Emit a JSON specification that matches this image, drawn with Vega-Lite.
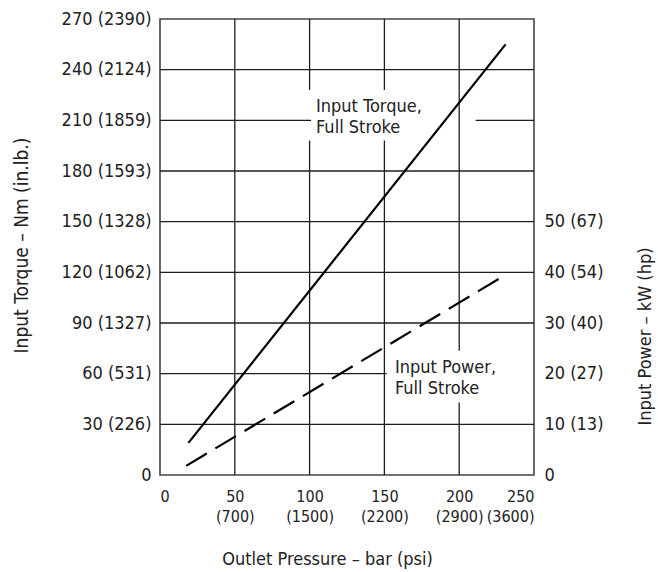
{
  "$schema": "https://vega.github.io/schema/vega-lite/v6.json",
  "width": 374,
  "height": 456,
  "autosize": {"type": "none"},
  "padding": {"left": 160, "top": 19, "right": 124, "bottom": 97},
  "background": "white",
  "config": {
    "view": {"stroke": "#444444", "strokeWidth": 1.6},
    "font": "DejaVu Sans Condensed",
    "axis": {
      "labelFont": "DejaVu Sans Condensed",
      "titleFont": "DejaVu Sans Condensed",
      "labelFontSize": 18,
      "titleFontSize": 18,
      "titleFontWeight": "normal",
      "labelColor": "#222222",
      "titleColor": "#222222",
      "labelOverlap": false,
      "ticks": false,
      "domain": false,
      "grid": false
    }
  },
  "datasets": {
    "grid": [
      {"x1": 0, "x2": 250, "y1": 30, "y2": 30},
      {"x1": 0, "x2": 151.5, "y1": 60, "y2": 60},
      {"x1": 0, "x2": 250, "y1": 90, "y2": 90},
      {"x1": 0, "x2": 250, "y1": 120, "y2": 120},
      {"x1": 0, "x2": 250, "y1": 150, "y2": 150},
      {"x1": 0, "x2": 250, "y1": 180, "y2": 180},
      {"x1": 0, "x2": 101, "y1": 210, "y2": 210},
      {"x1": 211, "x2": 250, "y1": 210, "y2": 210},
      {"x1": 0, "x2": 250, "y1": 240, "y2": 240},
      {"x1": 50, "x2": 50, "y1": 0, "y2": 270},
      {"x1": 100, "x2": 100, "y1": 0, "y2": 198},
      {"x1": 100, "x2": 100, "y1": 228, "y2": 270},
      {"x1": 150, "x2": 150, "y1": 0, "y2": 198},
      {"x1": 150, "x2": 150, "y1": 228, "y2": 270},
      {"x1": 200, "x2": 200, "y1": 0, "y2": 43},
      {"x1": 200, "x2": 200, "y1": 73.5, "y2": 270}
    ],
    "labels": [
      {"px": 104.3, "py": 214.9, "txt": "Input Torque,\nFull Stroke"},
      {"px": 157.1, "py": 60.4, "txt": "Input Power,\nFull Stroke"}
    ],
    "torque": [
      {"pressure": 19, "torque": 19},
      {"pressure": 231, "torque": 255}
    ],
    "power": [
      {"pressure": 17.5, "kw": 1.8},
      {"pressure": 231, "kw": 39.5}
    ]
  },
  "layer": [
    {
      "layer": [
        {
          "data": {"name": "grid"},
          "mark": {"type": "rule", "color": "#1e1e1e", "strokeWidth": 1.3},
          "encoding": {
            "x": {
              "field": "x1", "type": "quantitative",
              "scale": {"domain": [0, 250], "nice": false, "zero": false},
              "axis": {
                "title": "Outlet Pressure – bar (psi)",
                "values": [0, 50, 100, 150, 200, 250],
                "labelFontSize": 16,
                "labelPadding": 13,
                "labelLineHeight": 20,
                "labelExpr": "datum.value == 0 ? '0' : datum.value == 50 ? ['50', '(700)'] : datum.value == 100 ? ['100', '(1500)'] : datum.value == 150 ? ['150', '(2200)'] : datum.value == 200 ? ['200', '(2900)'] : ['250', '(3600)']",
                "titleX": 167,
                "titleY": 89,
                "titleBaseline": "alphabetic",
                "titleAlign": "center"
              }
            },
            "x2": {"field": "x2"},
            "y": {
              "field": "y1", "type": "quantitative",
              "scale": {"domain": [0, 270], "nice": false, "zero": false},
              "axis": {
                "title": "Input Torque – Nm (in.lb.)",
                "titleFontSize": 19,
                "values": [0, 30, 60, 90, 120, 150, 180, 210, 240, 270],
                "labelPadding": 9,
                "labelExpr": "datum.value == 0 ? '0' : datum.value == 30 ? '30 (226)' : datum.value == 60 ? '60 (531)' : datum.value == 90 ? '90 (1327)' : datum.value == 120 ? '120 (1062)' : datum.value == 150 ? '150 (1328)' : datum.value == 180 ? '180 (1593)' : datum.value == 210 ? '210 (1859)' : datum.value == 240 ? '240 (2124)' : '270 (2390)'",
                "titleAngle": 270,
                "titleX": -133,
                "titleY": 226,
                "titleBaseline": "alphabetic",
                "titleAlign": "center"
              }
            },
            "y2": {"field": "y2"}
          }
        },
        {
          "data": {"name": "labels"},
          "mark": {"type": "text", "align": "left", "baseline": "alphabetic", "lineBreak": "\n", "lineHeight": 21, "fontSize": 18, "font": "DejaVu Sans Condensed", "color": "#222222"},
          "encoding": {
            "x": {"field": "px", "type": "quantitative"},
            "y": {"field": "py", "type": "quantitative"},
            "text": {"field": "txt", "type": "nominal"}
          }
        },
        {
          "data": {"name": "torque"},
          "mark": {"type": "line", "color": "#000000", "strokeWidth": 2.2},
          "encoding": {
            "x": {"field": "pressure", "type": "quantitative"},
            "y": {"field": "torque", "type": "quantitative"}
          }
        }
      ]
    },
    {
      "data": {"name": "power"},
      "mark": {"type": "line", "color": "#000000", "strokeWidth": 2.2, "strokeDash": [24, 10]},
      "encoding": {
        "x": {"field": "pressure", "type": "quantitative"},
        "y": {
          "field": "kw", "type": "quantitative",
          "scale": {"domain": [0, 90], "nice": false, "zero": false},
          "axis": {
            "orient": "right",
            "title": "Input Power – kW (hp)",
            "values": [0, 10, 20, 30, 40, 50],
            "labelPadding": 10,
            "labelExpr": "datum.value == 0 ? '0' : datum.value == 10 ? '10 (13)' : datum.value == 20 ? '20 (27)' : datum.value == 30 ? '30 (40)' : datum.value == 40 ? '40 (54)' : '50 (67)'",
            "titleAngle": 270,
            "titleX": 116,
            "titleY": 317,
            "titleBaseline": "alphabetic",
            "titleAlign": "center"
          }
        }
      }
    }
  ],
  "resolve": {"scale": {"y": "independent"}}
}
